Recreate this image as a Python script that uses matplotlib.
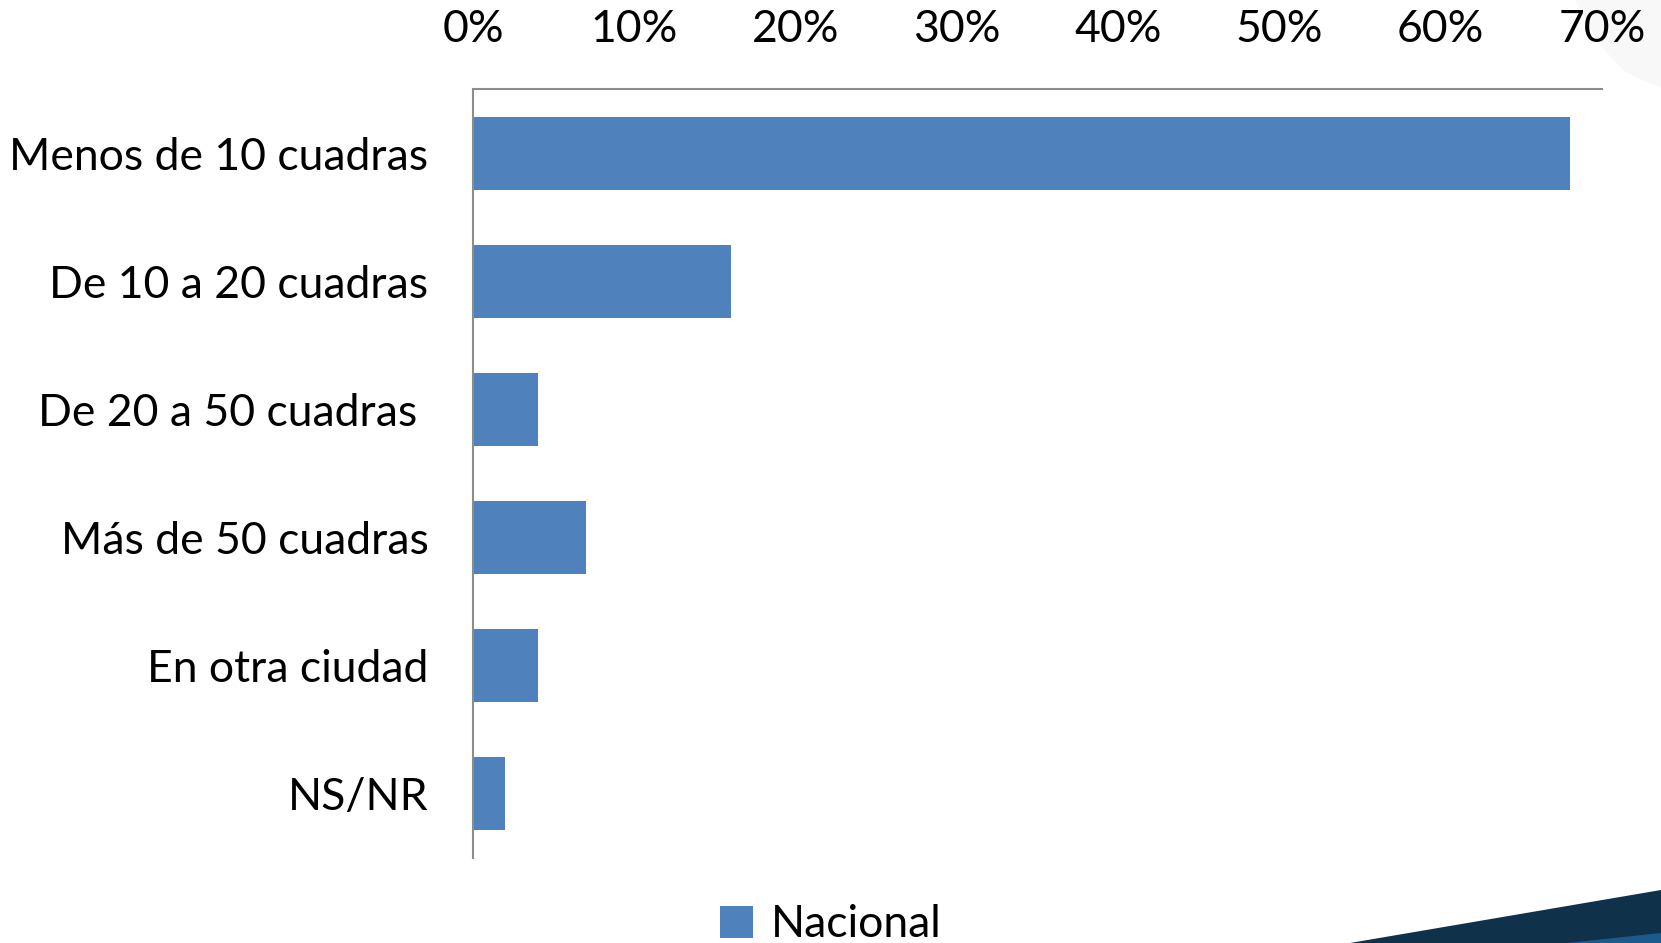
import numpy as np
import matplotlib.pyplot as plt
from matplotlib.patches import Polygon

# Datos del gráfico
categorias = ["Menos de 10 cuadras", "De 10 a 20 cuadras", "De 20 a 50 cuadras ",
              "Más de 50 cuadras", "En otra ciudad", "NS/NR"]
nacional = [0.68, 0.16, 0.04, 0.07, 0.04, 0.02]
ticks_x = [0.0, 0.1, 0.2, 0.3, 0.4, 0.5, 0.6, 0.7]
etiquetas_x = ["0%", "10%", "20%", "30%", "40%", "50%", "60%", "70%"]

plt.rcParams['font.family'] = ['Lato', 'DejaVu Sans']

W, H = 1661, 943
fig = plt.figure(figsize=(W / 100, H / 100), dpi=100)

# Decoración de la plantilla (esquinas)
deco = fig.add_axes([0, 0, 1, 1], zorder=0)
deco.set_xlim(0, W)
deco.set_ylim(H, 0)
deco.axis('off')
deco.add_patch(Polygon([(1575, 0), (1661, 0), (1661, 88), (1625, 72), (1600, 45)],
                       closed=True, facecolor='#f8f8f8', edgecolor='none'))
deco.add_patch(Polygon([(1350, 943), (1661, 890), (1661, 943)],
                       closed=True, facecolor='#10314a', edgecolor='none'))
deco.add_patch(Polygon([(1567, 943), (1661, 933), (1661, 943)],
                       closed=True, facecolor='#1b5a8a', edgecolor='none'))

ax = fig.add_axes([473 / W, 1 - 858 / H, (1602 - 473) / W, (858 - 89) / H], zorder=1)
ax.patch.set_alpha(0)

y = np.arange(len(categorias))
ax.barh(y, nacional, height=0.57, color='#4f81bd', label='Nacional')

ax.set_xlim(0, 0.7)
ax.set_ylim(len(categorias) - 0.5, -0.5)
ax.set_xticks(ticks_x)
ax.set_xticklabels(etiquetas_x)
ax.set_yticks(y)
ax.set_yticklabels(categorias)
ax.xaxis.tick_top()
ax.tick_params(axis='x', length=0, pad=28, labelsize=32)
ax.tick_params(axis='y', length=0, pad=32, labelsize=32)

for s in ['right', 'bottom']:
    ax.spines[s].set_visible(False)
for s in ['top', 'left']:
    ax.spines[s].set_color('#8c8c8c')
    ax.spines[s].set_linewidth(1.5)

fig.legend(loc='lower center', bbox_to_anchor=(0.5, -0.045), frameon=False,
           fontsize=32, handlelength=0.75, handleheight=0.75, handletextpad=0.4)

fig.savefig('out.png', dpi=100)
